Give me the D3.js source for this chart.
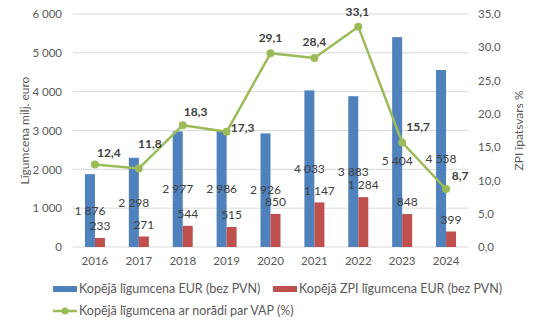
<!DOCTYPE html>
<html>
<head>
<meta charset="utf-8">
<script src="https://cdn.jsdelivr.net/npm/d3@7"></script>
<style>
  body { margin: 0; background: #fff; }
  text { font-family: Lato, "Liberation Sans", sans-serif; }
</style>
</head>
<body>
<div id="chart"></div>
<script>
// chart data
var years = ["2016", "2017", "2018", "2019", "2020", "2021", "2022", "2023", "2024"];
var totalEur = [1876, 2298, 2977, 2986, 2926, 4033, 3883, 5404, 4558];
var zpiEur = [233, 271, 544, 515, 850, 1147, 1284, 848, 399];
var vapShare = [12.4, 11.8, 18.3, 17.3, 29.1, 28.4, 33.1, 15.7, 8.7];
var leftTicks = [0, 1000, 2000, 3000, 4000, 5000, 6000];
var rightTicks = [0, 5, 10, 15, 20, 25, 30, 35];

var svgWidth = 537;
var svgHeight = 326;
var margin = { top: 14, right: 69, bottom: 79, left: 73 };
var width = svgWidth - margin.left - margin.right;
var height = svgHeight - margin.top - margin.bottom;

var blue = "#4F81BD", red = "#C0504D", green = "#9BBB59";

var svg = d3.select("#chart").append("svg")
  .attr("width", svgWidth)
  .attr("height", svgHeight);

var chartGroup = svg.append("g")
  .attr("transform", `translate(${margin.left}, ${margin.top})`);

var x = d3.scaleBand().domain(years).range([0, width]);
var yLeft = d3.scaleLinear().domain([0, 6000]).range([height, 0]);
var yRight = d3.scaleLinear().domain([0, 35]).range([height, 0]);
var barW = 10;

var fmtThousands = d => d3.format(",")(d).replace(/,/g, " ");
var fmtComma = d => d3.format(".1f")(d).replace(".", ",");

// gridlines
chartGroup.append("g")
  .selectAll("line")
  .data(leftTicks)
  .enter()
  .append("line")
  .attr("x1", 0)
  .attr("x2", width)
  .attr("y1", d => yLeft(d))
  .attr("y2", d => yLeft(d))
  .attr("stroke", "#D9D9D9")
  .attr("stroke-width", 1);

// left axis
var leftAxis = d3.axisLeft(yLeft).tickValues(leftTicks).tickFormat(fmtThousands).tickSize(0).tickPadding(11);
chartGroup.append("g").call(leftAxis)
  .call(g => g.select(".domain").remove())
  .selectAll("text")
  .attr("fill", "#595959")
  .style("font-size", "11.5px");

// right axis
var rightAxis = d3.axisRight(yRight).tickValues(rightTicks).tickFormat(fmtComma).tickSize(0).tickPadding(10);
chartGroup.append("g")
  .attr("transform", `translate(${width}, 0)`)
  .call(rightAxis)
  .call(g => g.select(".domain").remove())
  .selectAll("text")
  .attr("fill", "#595959")
  .style("font-size", "11.5px");

// x axis
var bottomAxis = d3.axisBottom(x).tickSize(0).tickPadding(10);
chartGroup.append("g")
  .attr("transform", `translate(0, ${height})`)
  .call(bottomAxis)
  .call(g => g.select(".domain").remove())
  .selectAll("text")
  .attr("fill", "#595959")
  .style("font-size", "11.5px");

// bars
chartGroup.selectAll(".bar-total")
  .data(totalEur)
  .enter()
  .append("rect")
  .attr("x", (d, i) => x(years[i]) + x.bandwidth() / 2 - barW)
  .attr("y", d => yLeft(d))
  .attr("width", barW)
  .attr("height", d => height - yLeft(d))
  .attr("fill", blue);

chartGroup.selectAll(".bar-zpi")
  .data(zpiEur)
  .enter()
  .append("rect")
  .attr("x", (d, i) => x(years[i]) + x.bandwidth() / 2)
  .attr("y", d => yLeft(d))
  .attr("width", barW)
  .attr("height", d => height - yLeft(d))
  .attr("fill", red);

// bar labels: blue centred in bar (2023 pushed down off the line), red above bar
chartGroup.selectAll(".lbl-total")
  .data(totalEur)
  .enter()
  .append("text")
  .attr("x", (d, i) => x(years[i]) + x.bandwidth() / 2 - barW / 2)
  .attr("y", (d, i) => (yLeft(d) + height) / 2 + (i === 7 ? 19 : 0))
  .attr("dy", "0.35em")
  .attr("text-anchor", "middle")
  .attr("fill", "#404040")
  .style("font-size", "12px")
  .text(fmtThousands);

chartGroup.selectAll(".lbl-zpi")
  .data(zpiEur)
  .enter()
  .append("text")
  .attr("x", (d, i) => x(years[i]) + x.bandwidth() / 2 + barW / 2)
  .attr("y", d => yLeft(d) - 12)
  .attr("dy", "0.35em")
  .attr("text-anchor", "middle")
  .attr("fill", "#404040")
  .style("font-size", "12px")
  .text(fmtThousands);

// line
var line = d3.line()
  .x((d, i) => x(years[i]) + x.bandwidth() / 2)
  .y(d => yRight(d));

chartGroup.append("path")
  .datum(vapShare)
  .attr("d", line)
  .attr("fill", "none")
  .attr("stroke", green)
  .attr("stroke-width", 2.5)
  .attr("stroke-linejoin", "round");

chartGroup.selectAll(".pt")
  .data(vapShare)
  .enter()
  .append("circle")
  .attr("cx", (d, i) => x(years[i]) + x.bandwidth() / 2)
  .attr("cy", d => yRight(d))
  .attr("r", 4)
  .attr("fill", green);

// line labels, nudged as in the original
var nudge = [[14, -12], [11, -25], [13, -13], [16, -4], [0, -15], [0, -16], [-1, -15], [16, -16], [14, -13]];
chartGroup.selectAll(".lbl-vap")
  .data(vapShare)
  .enter()
  .append("text")
  .attr("x", (d, i) => x(years[i]) + x.bandwidth() / 2 + nudge[i][0])
  .attr("y", (d, i) => yRight(d) + nudge[i][1])
  .attr("dy", "0.35em")
  .attr("text-anchor", "middle")
  .attr("fill", "#404040")
  .style("font-size", "12px")
  .style("font-weight", "bold")
  .text(fmtComma);

// axis titles
svg.append("text")
  .attr("transform", `translate(25, ${margin.top + height / 2}) rotate(-90)`)
  .attr("text-anchor", "middle")
  .attr("dy", "0.35em")
  .attr("fill", "#595959")
  .style("font-size", "12px")
  .text("Līgumcena milj. euro");

svg.append("text")
  .attr("transform", `translate(519, ${margin.top + height / 2}) rotate(-90)`)
  .attr("text-anchor", "middle")
  .attr("dy", "0.35em")
  .attr("fill", "#595959")
  .style("font-size", "12px")
  .text("ZPI īpatsvars %");

// legend
var legend = svg.append("g").style("font-size", "12.5px");
legend.append("rect").attr("x", 53).attr("y", 286).attr("width", 24).attr("height", 6).attr("fill", blue);
legend.append("text").attr("x", 79).attr("y", 289).attr("dy", "0.35em").attr("fill", "#595959")
  .text("Kopējā līgumcena EUR (bez PVN)");
legend.append("rect").attr("x", 273).attr("y", 286).attr("width", 24).attr("height", 6).attr("fill", red);
legend.append("text").attr("x", 299).attr("y", 289).attr("dy", "0.35em").attr("fill", "#595959")
  .text("Kopējā ZPI līgumcena EUR (bez PVN)");
legend.append("line").attr("x1", 53).attr("x2", 77).attr("y1", 311).attr("y2", 311)
  .attr("stroke", green).attr("stroke-width", 2.5);
legend.append("circle").attr("cx", 65).attr("cy", 311).attr("r", 3.5).attr("fill", green);
legend.append("text").attr("x", 79).attr("y", 311).attr("dy", "0.35em").attr("fill", "#595959")
  .text("Kopējā līgumcena ar norādi par VAP (%)");
</script>
</body>
</html>
